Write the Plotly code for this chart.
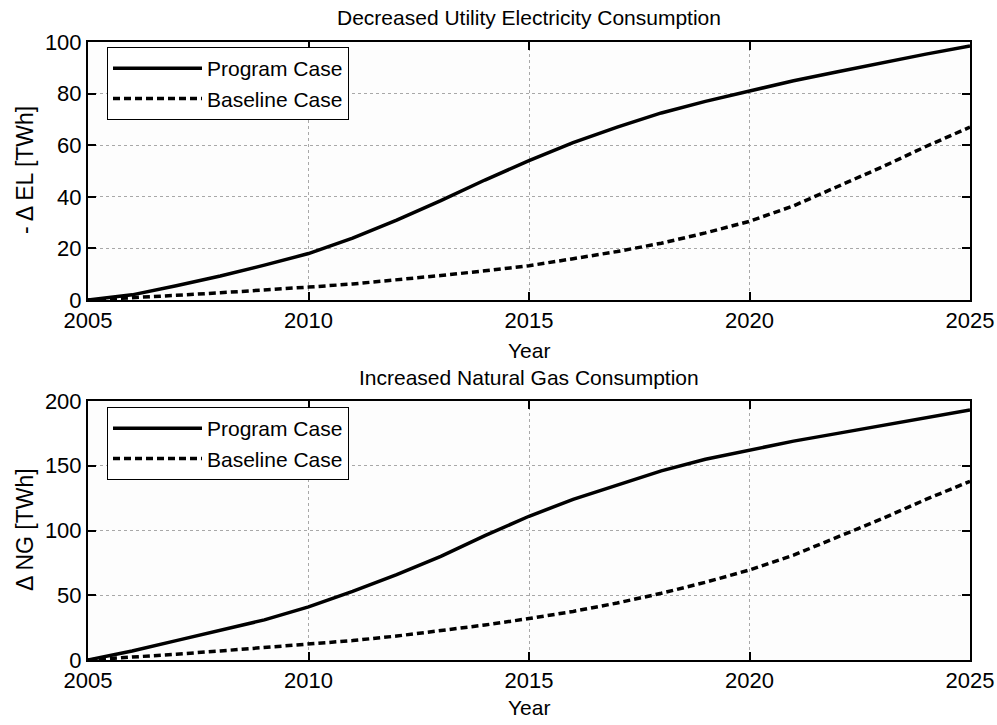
import plotly.graph_objects as go

years = list(range(2005, 2026))

el_program = [0, 2, 5.5, 9.3, 13.5, 18, 24, 31, 38.5, 46.5, 54, 61, 67, 72.5, 77, 81, 85, 88.5, 92, 95.3, 98.5]
el_baseline = [0, 0.8, 1.8, 2.8, 3.8, 5, 6.2, 7.7, 9.5, 11.3, 13.3, 16, 18.8, 22, 26, 30.5, 36.5, 44, 51.5, 59.5, 67]

ng_program = [0, 7, 15, 23, 31, 41, 53, 66, 80, 96, 111, 124, 135, 146, 155, 162, 169, 175, 181, 187, 193]
ng_baseline = [0, 2, 4.5, 7, 9.5, 12, 15, 18.5, 22.5, 27, 32, 37.5, 44, 51.5, 60, 69.5, 81, 95, 109, 124, 138]

x_ticks = [2005, 2010, 2015, 2020, 2025]
el_ticks = [0, 20, 40, 60, 80, 100]
ng_ticks = [0, 50, 100, 150, 200]

FONT = "Liberation Sans, Arial, sans-serif"
W, H = 997, 725


def px(x):
    return x / W


def py(y):
    return 1 - y / H


fig = go.Figure()

line_w = 3.5
DASH = "7px,4px"
fig.add_trace(go.Scatter(x=years, y=el_program, mode="lines", name="Program Case",
                         line=dict(color="black", width=line_w, dash="solid"),
                         xaxis="x", yaxis="y", legend="legend"))
fig.add_trace(go.Scatter(x=years, y=el_baseline, mode="lines", name="Baseline Case",
                         line=dict(color="black", width=line_w, dash=DASH),
                         xaxis="x", yaxis="y", legend="legend"))
fig.add_trace(go.Scatter(x=years, y=ng_program, mode="lines", name="Program Case",
                         line=dict(color="black", width=line_w, dash="solid"),
                         xaxis="x2", yaxis="y2", legend="legend2"))
fig.add_trace(go.Scatter(x=years, y=ng_baseline, mode="lines", name="Baseline Case",
                         line=dict(color="black", width=line_w, dash=DASH),
                         xaxis="x2", yaxis="y2", legend="legend2"))

xd = [px(88), px(970)]
top_d = [py(300), py(42)]
bot_d = [py(660), py(401)]

axis_common = dict(
    showline=True, linecolor="black", linewidth=2, mirror="ticks",
    ticks="inside", ticklen=8, tickwidth=2, tickcolor="black",
    showgrid=True, gridcolor="#a8a8a8", griddash="dot", gridwidth=1,
    zeroline=False, automargin=False,
    tickfont=dict(family=FONT, size=22, color="black"),
)

legend_common = dict(
    xanchor="left", yanchor="top",
    bordercolor="black", borderwidth=1, bgcolor="white",
    font=dict(family=FONT, size=21, color="black"), tracegroupgap=0,
    itemwidth=89, entrywidth=244, entrywidthmode="pixels",
)

fig.update_layout(
    template="none",
    width=W, height=H,
    margin=dict(l=0, r=0, t=0, b=0),
    paper_bgcolor="white", plot_bgcolor="#fdfdfd",
    font=dict(family=FONT, color="black"),
    xaxis=dict(domain=xd, anchor="y", range=[2005, 2025], tickvals=x_ticks, **axis_common),
    yaxis=dict(domain=top_d, anchor="x", range=[0, 100], tickvals=el_ticks, **axis_common),
    xaxis2=dict(domain=xd, anchor="y2", range=[2005, 2025], tickvals=x_ticks, **axis_common),
    yaxis2=dict(domain=bot_d, anchor="x2", range=[0, 200], tickvals=ng_ticks, **axis_common),
    legend=dict(x=px(107), y=py(47), **legend_common),
    legend2=dict(x=px(107), y=py(407), **legend_common),
    showlegend=True,
)

ann = [
    dict(text="Decreased Utility Electricity Consumption", x=529, y=18),
    dict(text="Year", x=529, y=350),
    dict(text="Increased Natural Gas Consumption", x=529, y=378),
    dict(text="Year", x=529, y=707),
]
for a in ann:
    fig.add_annotation(text=a["text"], x=px(a["x"]), y=py(a["y"]), xref="paper", yref="paper",
                       xanchor="center", yanchor="middle", showarrow=False,
                       font=dict(family=FONT, size=21, color="black"))

fig.add_annotation(text="- Δ EL [TWh]", x=px(25), y=py(170), xref="paper", yref="paper",
                   textangle=-90, showarrow=False, xanchor="center", yanchor="middle",
                   font=dict(family=FONT, size=23, color="black"))
fig.add_annotation(text="Δ NG [TWh]", x=px(25), y=py(530), xref="paper", yref="paper",
                   textangle=-90, showarrow=False, xanchor="center", yanchor="middle",
                   font=dict(family=FONT, size=23, color="black"))

fig.write_html(
    "out.html",
    config={"displayModeBar": False},
    post_script="document.body.style.margin='0';document.body.style.overflow='hidden';",
)
